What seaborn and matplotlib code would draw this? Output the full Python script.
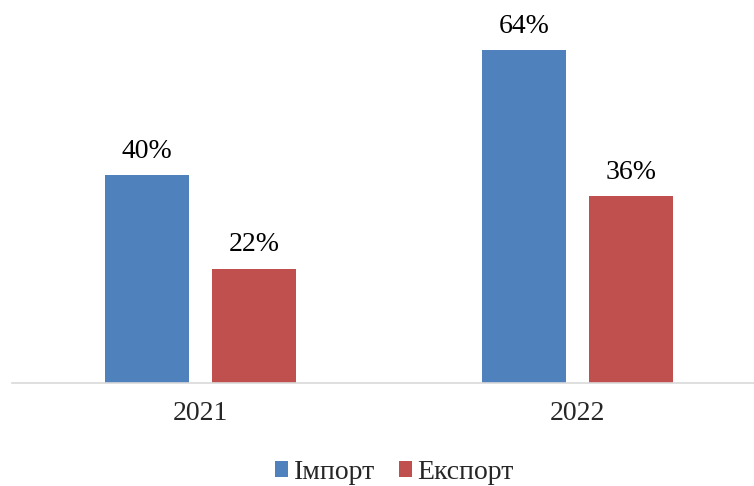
import pandas as pd
import matplotlib.pyplot as plt
import seaborn as sns

years = ["2021", "2022"]
series = ["Імпорт", "Експорт"]
import_vals = [40, 64]
export_vals = [22, 36]
colors = ["#4F81BD", "#C0504D"]

df = pd.DataFrame({
    "year": years * 2,
    "series": [series[0]] * 2 + [series[1]] * 2,
    "value": import_vals + export_vals,
})

sns.set_style("white")
plt.rcParams['font.family'] = ['Liberation Serif', 'DejaVu Serif']

fig = plt.figure(figsize=(7.54, 4.86), dpi=100)
ax = fig.add_axes([12 / 754, 103 / 486, (754 - 12) / 754, 364 / 486])

sns.barplot(data=df, x="year", y="value", hue="series", palette=colors,
            width=0.568, gap=0.215, saturation=1, linewidth=0, ax=ax)

for c in ax.containers:
    ax.bar_label(c, labels=[f"{v:.0f}%" for v in c.datavalues],
                 padding=8, fontsize=20, color="#000000")

ax.set_xlim(-0.501, 1.467)
ax.set_ylim(0, 70)
ax.set_yticks([])
ax.set_xlabel("")
ax.set_ylabel("")
for s in ["top", "right", "left"]:
    ax.spines[s].set_visible(False)
ax.spines["bottom"].set_color("#d9d9d9")
ax.spines["bottom"].set_linewidth(1.2)
ax.tick_params(axis="x", length=0, labelsize=20, pad=13)

ax.legend(loc="center", bbox_to_anchor=(0.523, 0.028),
          bbox_transform=fig.transFigure, ncol=2, frameon=False,
          fontsize=20, handlelength=0.47, handleheight=0.47,
          handletextpad=0.2, columnspacing=0.85)

fig.savefig("out.png", dpi=100)
